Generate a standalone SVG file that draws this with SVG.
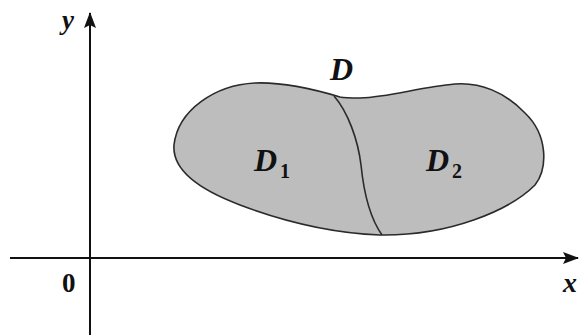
<svg xmlns="http://www.w3.org/2000/svg" width="579" height="335" viewBox="0 0 579 335">
<defs>
<style>
.lbl{font-family:"Liberation Serif","Times New Roman",serif;font-weight:bold;font-style:italic;fill:#111}
.num{font-family:"Liberation Serif","Times New Roman",serif;font-weight:bold;fill:#111}
.axis{stroke:#111;stroke-width:2;fill:none}
</style>
<marker id="arr" markerWidth="16" markerHeight="12" refX="15" refY="6" orient="auto" markerUnits="userSpaceOnUse">
<path d="M0,0 L16,6 L0,12 L3,6 Z" fill="#111"/>
</marker>
</defs>
<rect width="579" height="335" fill="#fff"/>
<g id="axes">
<line class="axis" x1="10" y1="258" x2="578" y2="258" marker-end="url(#arr)"/>
<line class="axis" x1="90" y1="335" x2="90" y2="13" marker-end="url(#arr)"/>
</g>
<g id="region">
<path d="M340 97 C310 88,280 82,255 83 C215 85,178 110,174 145 C172 170,200 190,240 205 C280 220,330 233,380 235 C450 236,510 210,535 185 C548 168,548 135,525 113 C505 92,480 82,455 84 C420 87,390 97,360 98 C352 98,345 98,340 97 Z" fill="#bdbdbd" stroke="#2a2a2a" stroke-width="1.6"/>
<path d="M334 96 C348 112,358 140,361 165 C364 195,370 218,382 235" fill="none" stroke="#2a2a2a" stroke-width="1.6"/>
</g>
<g id="labels">
<text class="lbl" x="330" y="80" font-size="32">D</text>
<text class="lbl" x="254" y="171" font-size="32">D</text>
<text class="num" x="280" y="178" font-size="20">1</text>
<text class="lbl" x="426" y="171" font-size="32">D</text>
<text class="num" x="452" y="178" font-size="20">2</text>
<text class="lbl" x="62" y="29" font-size="27">y</text>
<text class="num" x="62" y="292" font-size="27">0</text>
<text class="lbl" x="563" y="292" font-size="28">x</text>
</g>
</svg>
